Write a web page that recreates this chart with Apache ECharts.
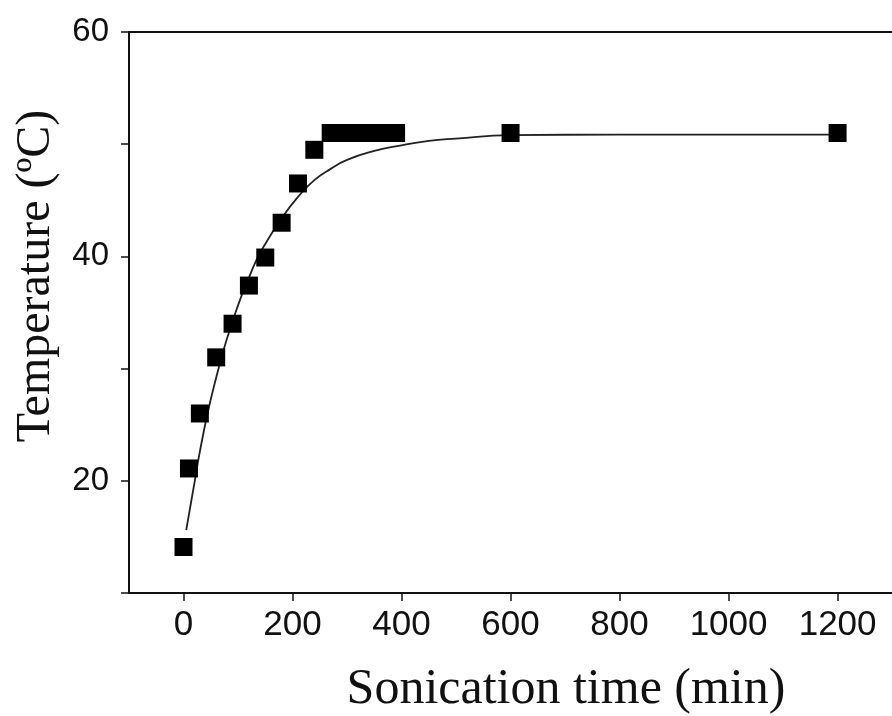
<!DOCTYPE html>
<html>
<head>
<meta charset="utf-8">
<script src="https://cdn.jsdelivr.net/npm/echarts@6/dist/echarts.min.js"></script>
<style>
html,body{margin:0;padding:0;background:#fff;}
#chart{width:892px;height:716px;}
</style>
</head>
<body>
<div id="chart"></div>
<script>
// Measured points (sonication time in min, temperature in °C)
var timeMin = [0, 10, 30, 60, 90, 120, 150, 180, 210, 240, 270, 300, 330, 360, 390, 600, 1200];
var tempC   = [14.1, 21.1, 26.0, 31.0, 34.0, 37.4, 39.9, 43.0, 46.5, 49.5, 51.0, 51.0, 51.0, 51.0, 51.0, 51.0, 51.0];

// Fitted curve
var fitTime = [5, 10, 20, 30, 45, 60, 75, 90, 105, 120, 135, 150, 180, 210, 240, 270, 300, 350, 400, 450, 500, 600, 800, 1200];
var fitTemp = [15.6, 17.0, 19.8, 22.6, 26.2, 29.2, 31.9, 34.2, 36.3, 38.1, 39.8, 41.1, 43.4, 45.3, 46.8, 47.8, 48.6, 49.4, 49.9, 50.3, 50.5, 50.8, 50.85, 50.85];

// Tick labels
var xTicks = [0, 200, 400, 600, 800, 1000, 1200];
var yLabels = [20, 40, 60];

var xTitle = 'Sonication time (min)';
var yTitle = 'Temperature (\u00BAC)';

var pts = timeMin.map(function (t, i) { return [t, tempC[i]]; });
var fit = fitTime.map(function (t, i) { return [t, fitTemp[i]]; });

var chart = echarts.init(document.getElementById('chart'));
chart.setOption({
  animation: false,
  backgroundColor: '#fff',
  grid: {
    left: 129, top: 32, width: 774, bottom: 123,
    outerBoundsMode: 'none', containLabel: false,
    show: true, borderColor: '#111', borderWidth: 2, backgroundColor: 'transparent'
  },
  xAxis: {
    type: 'value', min: -100, max: 1320,
    axisLine: { onZero: false, lineStyle: { color: '#111', width: 2 } },
    axisTick: { show: true, length: 8, customValues: xTicks, lineStyle: { color: '#111', width: 1.5 } },
    axisLabel: {
      customValues: xTicks, fontFamily: 'Liberation Sans', fontSize: 35, color: '#111', margin: 15,
      formatter: function (v) { return String(v); }
    },
    splitLine: { show: false }
  },
  yAxis: {
    type: 'value', min: 10, max: 60, interval: 10,
    axisLine: { show: true, onZero: false, lineStyle: { color: '#111', width: 2 } },
    axisTick: { show: true, length: 8, lineStyle: { color: '#111', width: 1.5 } },
    axisLabel: {
      fontFamily: 'Liberation Sans', fontSize: 33, color: '#111', margin: 20,
      formatter: function (v) { return yLabels.indexOf(v) >= 0 ? String(v) : ''; }
    },
    splitLine: { show: false }
  },
  graphic: [
    { type: 'text', x: 566, y: 690, style: { text: xTitle, font: '50px "Liberation Serif"', fill: '#111', align: 'center', verticalAlign: 'middle' } },
    { type: 'text', x: 36, y: 276, rotation: Math.PI / 2, style: { text: yTitle, font: '48px "Liberation Serif"', fill: '#111', align: 'center', verticalAlign: 'middle' } }
  ],
  series: [
    {
      type: 'line', data: fit, smooth: true, showSymbol: false, symbol: 'none',
      lineStyle: { color: '#222', width: 1.8 }, z: 2
    },
    {
      type: 'scatter', data: pts, symbol: 'rect', symbolSize: 18,
      itemStyle: { color: '#000', opacity: 1 }, z: 3
    }
  ]
});
</script>
</body>
</html>
